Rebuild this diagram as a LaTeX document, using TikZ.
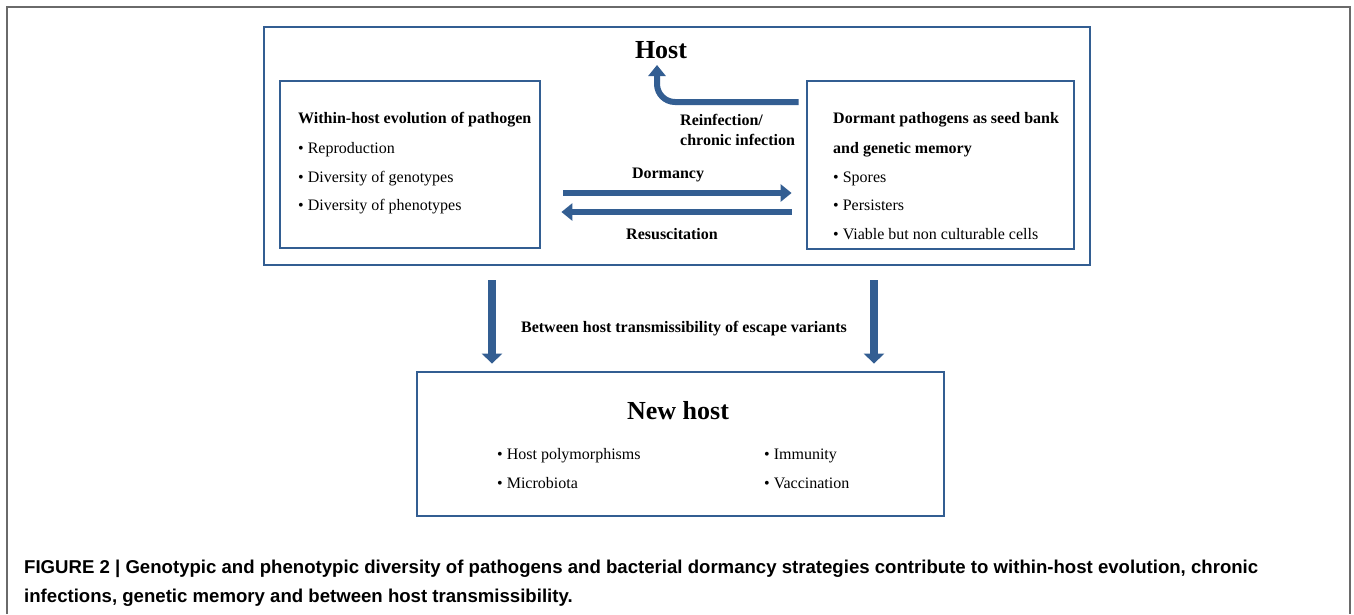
\documentclass[tikz,border=0pt]{standalone}
\usepackage{fontspec}
\setmainfont{Liberation Serif}
\newfontfamily\capfont{Liberation Sans}
\usetikzlibrary{arrows.meta,calc}
\definecolor{bl}{HTML}{335E92}
\definecolor{framecol}{HTML}{6A6A6A}
\begin{document}
\begin{tikzpicture}[x=1pt,y=-1pt,
  box/.style={draw=bl, line width=2.8pt, inner sep=0pt, fill=none},
  fat/.style={draw=bl, line width=6pt, -{Triangle[length=11pt,width=17pt]}},
  downarr/.style={draw=bl, line width=8pt, -{Triangle[length=10pt,width=20pt]}},
  body/.style={font=\fontsize{16}{19}\selectfont, anchor=base west, inner sep=0pt},
  bodyb/.style={font=\fontsize{16}{19}\selectfont\bfseries, anchor=base west, inner sep=0pt},
  lab/.style={font=\fontsize{16}{19}\selectfont\bfseries, anchor=base, inner sep=0pt},
  big/.style={font=\fontsize{26}{30}\selectfont\bfseries, anchor=base, inner sep=0pt},
  captext/.style={font=\capfont\bfseries\fontsize{18.6}{22}\selectfont, anchor=base west, inner sep=0pt}]
\useasboundingbox (0,0) rectangle (1354,614);
\fill[white] (0,0) rectangle (1354,614);
% outer frame (open at bottom)
\draw[framecol, line width=1.5pt] (7,614) -- (7,7) -- (1350,7) -- (1350,614);

% boxes
\node[box, minimum width=826pt, minimum height=238pt] (host) at (677,146) {};
\node[box, minimum width=260pt, minimum height=167pt] (lbox) at (410,164.5) {};
\node[box, minimum width=267pt, minimum height=168pt] (rbox) at (940.5,165) {};
\node[box, minimum width=527pt, minimum height=144pt] (nhost) at (680.5,444) {};

% titles
\node[big] (hosttitle) at (661,58) {Host};
\node[big] (nhosttitle) at (678,419) {New host};

% left box text
\node[bodyb] (l1) at (298,123) {Within-host evolution of pathogen};
\node[body] (l2) at (298,153) {\textbullet\ Reproduction};
\node[body] (l3) at (298,182) {\textbullet\ Diversity of genotypes};
\node[body] (l4) at (298,210) {\textbullet\ Diversity of phenotypes};

% right box text
\node[bodyb] (r1) at (833,123) {Dormant pathogens as seed bank};
\node[bodyb] (r2) at (833,153) {and genetic memory};
\node[body] (r3) at (833,182) {\textbullet\ Spores};
\node[body] (r4) at (833,210) {\textbullet\ Persisters};
\node[body] (r5) at (833,239) {\textbullet\ Viable but non culturable cells};

% new host text
\node[body] (n1) at (497,459) {\textbullet\ Host polymorphisms};
\node[body] (n2) at (497,488) {\textbullet\ Microbiota};
\node[body] (n3) at (764,459) {\textbullet\ Immunity};
\node[body] (n4) at (764,488) {\textbullet\ Vaccination};

% arrow labels
\node[bodyb] (reinf1) at (680,125) {Reinfection/};
\node[bodyb] (reinf2) at (680,145) {chronic infection};
\node[lab] (dorm) at (668,178) {Dormancy};
\node[lab] (resus) at (672,239) {Resuscitation};
\node[lab] (between) at (684,332) {Between host transmissibility of escape variants};

% arrows
\coordinate (hosttip) at (657,65);
\draw[fat, rounded corners=18pt] ([xshift=-7pt]rbox.west |- 0,102) -| (hosttip);
\draw[fat] ([xshift=22pt]lbox.east |- 0,193) -- ([xshift=-14pt]rbox.west |- 0,193);
\draw[fat] ([xshift=-14pt]rbox.west |- 0,212) -- ([xshift=20pt]lbox.east |- 0,212);
\draw[downarr] ([yshift=-14pt]host.south -| 492,0) -- ([yshift=7pt]nhost.north -| 492,0);
\draw[downarr] ([yshift=-14pt]host.south -| 874,0) -- ([yshift=7pt]nhost.north -| 874,0);

% caption
\node[captext] (cap1) at (24,573) {FIGURE 2 | Genotypic and phenotypic diversity of pathogens and bacterial dormancy strategies contribute to within-host evolution, chronic};
\node[captext] (cap2) at (24,602) {infections, genetic memory and between host transmissibility.};
\end{tikzpicture}
\end{document}
